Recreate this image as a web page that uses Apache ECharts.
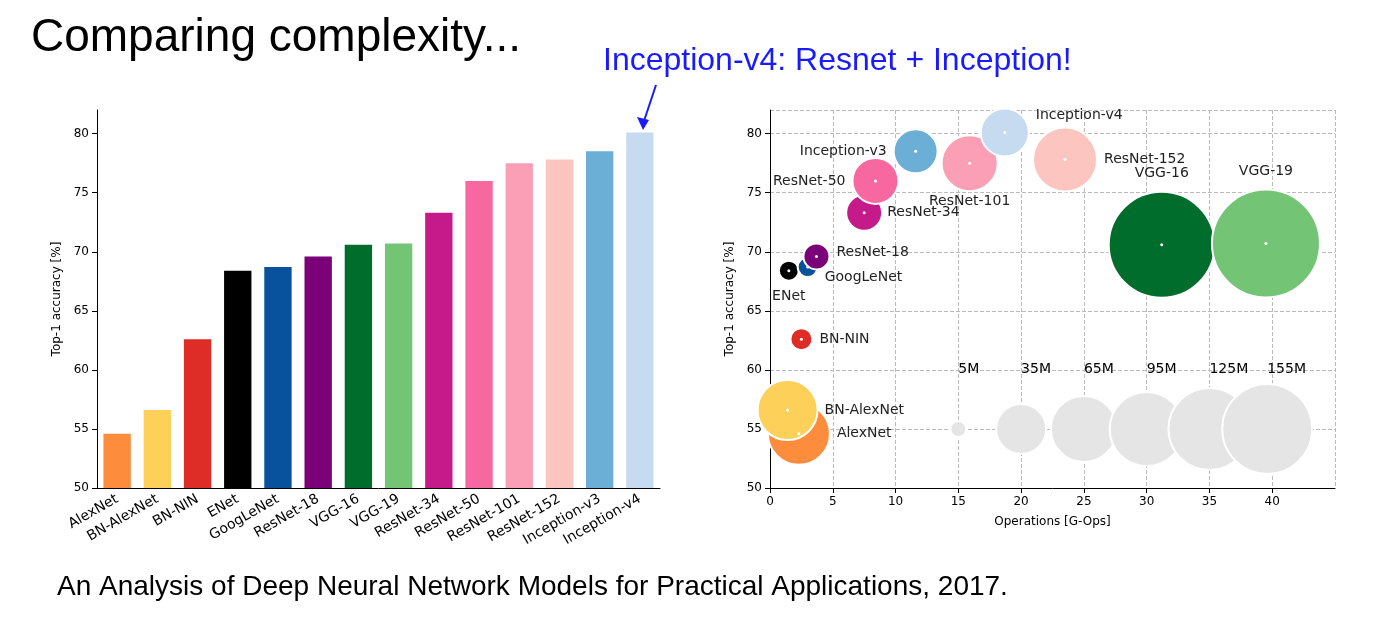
<!DOCTYPE html>
<html>
<head>
<meta charset="utf-8">
<script src="https://cdn.jsdelivr.net/npm/echarts@6/dist/echarts.min.js"></script>
<style>
  body { margin: 0; background: #fff; }
  #chart { width: 1391px; height: 621px; }
</style>
</head>
<body>
<div id="chart"></div>
<script>
// bar chart data
const models = ['AlexNet', 'BN-AlexNet', 'BN-NIN', 'ENet', 'GoogLeNet', 'ResNet-18', 'VGG-16', 'VGG-19',
  'ResNet-34', 'ResNet-50', 'ResNet-101', 'ResNet-152', 'Inception-v3', 'Inception-v4'];
const top1 = [54.6, 56.6, 62.6, 68.4, 68.7, 69.6, 70.6, 70.7, 73.3, 76.0, 77.5, 77.8, 78.5, 80.1];
const colors = ['#fd8d3c', '#fdd05a', '#de2d26', '#000000', '#08519c', '#7a0177', '#006d2c', '#74c476',
  '#c51b8a', '#f768a1', '#fa9fb5', '#fcc5c0', '#6baed6', '#c6dbef'];
// bubble chart data (G-Ops, bubble weight)
const gops = [2.3, 1.4, 2.5, 1.5, 3.0, 3.7, 31.2, 39.5, 7.5, 8.4, 15.9, 23.5, 11.6, 18.7];
const weight = [62, 60, 22, 20, 20, 26, 106, 108, 36, 46, 56, 64, 44, 48];
const labelPos = ['right', 'right', 'right', 'bottom', 'right', 'right', 'top', 'top',
  'right', 'left', 'bottom', 'right', 'left', 'right'];
// size legend
const legendX = [15, 20, 25, 30, 35, 39.6];
const legendY = 55;
const legendText = ['5M', '35M', '65M', '95M', '125M', '155M'];
const legendWeight = [16, 50, 66, 74, 82, 90];

const font = 'DejaVu Sans';
const labelOffsets = {
  'AlexNet': [0, 0], 'BN-AlexNet': [0, 0], 'BN-NIN': [0, 0], 'ENet': [0, 2],
  'GoogLeNet': [0, 10], 'ResNet-18': [0, -4], 'VGG-16': [0, -4], 'VGG-19': [0, -4],
  'ResNet-34': [-2, 0], 'ResNet-50': [0, 0], 'ResNet-101': [0, -4], 'ResNet-152': [0, 0],
  'Inception-v3': [0, 0], 'Inception-v4': [0, -17]
};

const bubbles = models.map((m, i) => ({
  name: m,
  value: [gops[i], top1[i], weight[i]],
  itemStyle: { color: colors[i], borderColor: '#fff', borderWidth: 2, opacity: 1 },
  label: { position: labelPos[i], offset: labelOffsets[m] }
}));

const chart = echarts.init(document.getElementById('chart'));
chart.setOption({
  animation: false,
  textStyle: { fontFamily: font },
  title: [
    { text: 'Comparing complexity...', left: 26, top: 10,
      textStyle: { fontFamily: 'Liberation Sans', fontSize: 46, fontWeight: 'normal', color: '#000' } },
    { text: 'Inception-v4: Resnet + Inception!', left: 598, top: 40,
      textStyle: { fontFamily: 'Liberation Sans', fontSize: 32, fontWeight: 'normal', color: '#1a1aff' } },
    { text: 'An Analysis of Deep Neural Network Models for Practical Applications, 2017.', left: 52, top: 568,
      textStyle: { fontFamily: 'Liberation Sans', fontSize: 28, fontWeight: 'normal', color: '#000' } }
  ],
  graphic: [{
    type: 'line', shape: { x1: 656, y1: 85, x2: 643, y2: 124 },
    style: { stroke: '#1a1aff', lineWidth: 2 }
  }, {
    type: 'polygon', shape: { points: [[643, 130], [637, 117], [649, 120]] },
    style: { fill: '#1a1aff' }
  }],
  grid: [
    { left: 97, right: 731, top: 110, bottom: 133 },
    { left: 770, right: 56, top: 110, bottom: 133 }
  ],
  xAxis: [{
    type: 'category', gridIndex: 0, data: models,
    axisLine: { lineStyle: { color: '#000' } }, axisTick: { show: false },
    axisLabel: { rotate: 30, fontSize: 14, color: '#000', interval: 0, margin: 10 }
  }, {
    type: 'value', gridIndex: 1, min: 0, max: 45, interval: 5,
    name: 'Operations [G-Ops]', nameLocation: 'middle', nameGap: 28,
    nameTextStyle: { fontSize: 12, color: '#000' },
    axisLine: { lineStyle: { color: '#000' } }, axisTick: { lineStyle: { color: '#000' } },
    axisLabel: { fontSize: 12, color: '#000', showMaxLabel: false },
    splitLine: { lineStyle: { type: 'dashed', color: '#bbb' } }
  }],
  yAxis: [{
    type: 'value', gridIndex: 0, min: 50, max: 82, interval: 5,
    name: 'Top-1 accuracy [%]', nameLocation: 'middle', nameGap: 34,
    nameTextStyle: { fontSize: 12, color: '#000' },
    axisLine: { show: true, lineStyle: { color: '#000' } }, axisTick: { show: true, lineStyle: { color: '#000' } },
    axisLabel: { fontSize: 12, color: '#000', showMaxLabel: false },
    splitLine: { show: false }
  }, {
    type: 'value', gridIndex: 1, min: 50, max: 82, interval: 5,
    name: 'Top-1 accuracy [%]', nameLocation: 'middle', nameGap: 34,
    nameTextStyle: { fontSize: 12, color: '#000' },
    axisLine: { show: true, lineStyle: { color: '#000' } }, axisTick: { show: true, lineStyle: { color: '#000' } },
    axisLabel: { fontSize: 12, color: '#000', showMaxLabel: false },
    splitLine: { lineStyle: { type: 'dashed', color: '#bbb' } }
  }],
  series: [{
    type: 'bar', xAxisIndex: 0, yAxisIndex: 0, barWidth: '68%',
    data: top1.map((v, i) => ({ value: v, itemStyle: { color: colors[i] } }))
  }, {
    type: 'scatter', xAxisIndex: 1, yAxisIndex: 1,
    symbolSize: d => d[2],
    data: legendX.map((x, i) => ({ value: [x, legendY, legendWeight[i]], name: legendText[i] })),
    itemStyle: { color: '#e5e5e5', borderColor: '#fff', borderWidth: 2, opacity: 1 },
    label: { show: true, position: 'top', distance: 0, formatter: '{b}', fontSize: 14, color: '#000' },
    labelLayout: () => ({ y: 362 })
  }, {
    type: 'scatter', xAxisIndex: 1, yAxisIndex: 1,
    symbolSize: d => d[2],
    data: bubbles,
    label: { show: true, formatter: '{b}', fontSize: 14, color: '#222', distance: 6 }
  }, {
    type: 'scatter', xAxisIndex: 1, yAxisIndex: 1, symbolSize: 3, z: 5,
    data: models.map((m, i) => [gops[i], top1[i]]),
    itemStyle: { color: '#fff', opacity: 1 }
  }]
});
</script>
</body>
</html>
